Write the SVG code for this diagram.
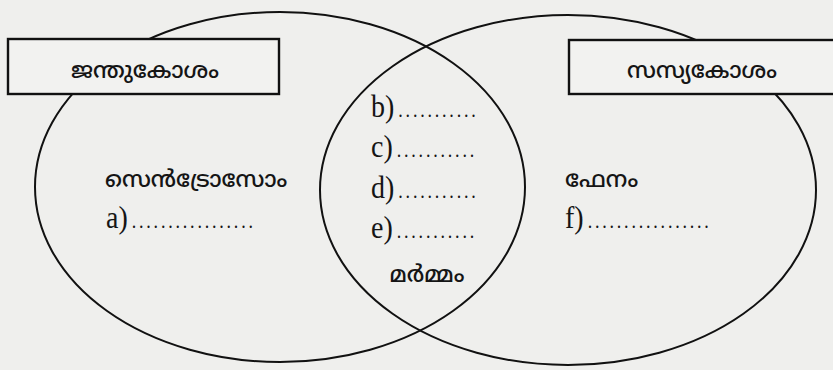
<svg xmlns="http://www.w3.org/2000/svg" width="833" height="370" viewBox="0 0 833 370">
<style>
.shape{fill:none;stroke:#111;stroke-width:2}
.box{fill:#f2f2f0;stroke:#111;stroke-width:2.4}
.ml{font-family:"Noto Sans Malayalam","Noto Sans",sans-serif;font-size:23px;font-weight:500;fill:#151515}
.lat{font-family:"Liberation Serif",serif;font-size:28px;fill:#151515}
.dot{font-family:"Liberation Serif",serif;font-size:18px;fill:#151515;letter-spacing:2.8px}
</style>
<rect width="833" height="370" fill="#efefed"/>
<g id="animal-cell-set">
<ellipse class="shape" cx="280" cy="187" rx="245" ry="175"/>
</g>
<g id="plant-cell-set">
<ellipse class="shape" cx="568" cy="190" rx="248" ry="175"/>
</g>
<g id="animal-label">
<rect class="box" x="8" y="39" width="271" height="55"/>
<text class="ml" x="145" y="78" text-anchor="middle">ജന്തുകോശം</text>
</g>
<g id="plant-label">
<rect class="box" x="569" y="40" width="272" height="54"/>
<text class="ml" x="702" y="78" text-anchor="middle">സസ്യകോശം</text>
</g>
<g id="animal-only">
<text class="ml" x="105" y="187">സെൻട്രോസോം</text>
<text transform="translate(106,228) scale(1,1.15)"><tspan class="lat">a)</tspan><tspan class="dot" dx="4">.................</tspan></text>
</g>
<g id="common">
<text transform="translate(371,117) scale(1,1.15)"><tspan class="lat">b)</tspan><tspan class="dot" dx="4">...........</tspan></text>
<text transform="translate(371,157) scale(1,1.15)"><tspan class="lat">c)</tspan><tspan class="dot" dx="4">...........</tspan></text>
<text transform="translate(371,198) scale(1,1.15)"><tspan class="lat">d)</tspan><tspan class="dot" dx="4">...........</tspan></text>
<text transform="translate(371,238) scale(1,1.15)"><tspan class="lat">e)</tspan><tspan class="dot" dx="4">...........</tspan></text>
<text class="ml" x="427" y="282" text-anchor="middle">മർമ്മം</text>
</g>
<g id="plant-only">
<text class="ml" x="565" y="187">ഫേനം</text>
<text transform="translate(565,228) scale(1,1.15)"><tspan class="lat">f)</tspan><tspan class="dot" dx="4">.................</tspan></text>
</g>
<g id="connectors"></g>
</svg>
